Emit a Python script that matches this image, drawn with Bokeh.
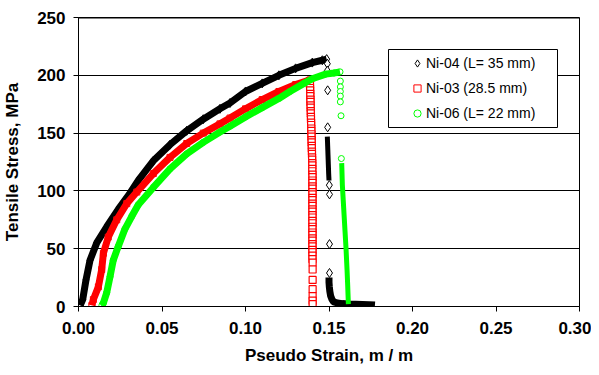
from bokeh.plotting import figure
from bokeh.models import (Range1d, FixedTicker, NumeralTickFormatter, Legend,
                          LegendItem, BoxAnnotation, Span)
from bokeh.embed import file_html
from bokeh.resources import INLINE

# ---------------- data ----------------
x_ticks = [0.00, 0.05, 0.10, 0.15, 0.20, 0.25, 0.30]
y_ticks = [0, 50, 100, 150, 200, 250]

# Ni-04 (L= 35 mm)  - black diamonds
ni04_rise_strain = [0.0010, 0.0025, 0.0045, 0.0069, 0.0109, 0.0169, 0.0238, 0.0308,
                    0.0358, 0.0448, 0.0548, 0.0648, 0.0747, 0.0847, 0.0907, 0.1000,
                    0.1100, 0.1200, 0.1300, 0.1400, 0.1460, 0.1486]
ni04_rise_stress = [1, 6, 23, 40, 55, 69, 84, 98,
                    109, 126, 140, 152, 162, 171, 176, 186,
                    193, 200, 206, 211, 213, 214]
ni04_sparse_strain = [0.1490, 0.1490, 0.1492, 0.1492, 0.1502, 0.1503, 0.1503, 0.1503]
ni04_sparse_stress = [210, 204, 187, 155, 105, 97, 54, 29]
ni04_dense_strain = [0.1490, 0.1491, 0.1492, 0.1493, 0.1494, 0.1495, 0.1496, 0.1497,
                     0.1498, 0.1499, 0.1500]
ni04_dense_stress = [147, 143, 139, 135, 131, 127, 123, 119, 115, 112, 109]
ni04_tail_strain = [0.1500, 0.1500, 0.1502, 0.1505, 0.1510, 0.1518, 0.1528, 0.1550,
                    0.1580, 0.1620, 0.1660, 0.1700, 0.1740, 0.1775]
ni04_tail_stress = [25, 21, 17, 13, 9, 6, 4, 3, 2.5, 2.2, 2, 1.8, 1.6, 1.2]

# Ni-03 (28.5 mm)  - red squares
ni03_rise_strain = [0.0080, 0.0089, 0.0119, 0.0139, 0.0149, 0.0178, 0.0229, 0.0289,
                    0.0349, 0.0448, 0.0548, 0.0648, 0.0747, 0.0847, 0.0907, 0.1000,
                    0.1100, 0.1200, 0.1300, 0.1386]
ni03_rise_stress = [1, 6, 17, 32, 46, 60, 75, 89,
                    99, 115, 129, 141, 150, 158, 163, 171,
                    179, 186, 192, 196]
ni03_drop_strain = [0.1386, 0.1386, 0.1387, 0.1387, 0.1388, 0.1388, 0.1389, 0.1389,
                    0.1390, 0.1390, 0.1391, 0.1391, 0.1392, 0.1392, 0.1393, 0.1393,
                    0.1394, 0.1394, 0.1395, 0.1395, 0.1396, 0.1396, 0.1397, 0.1397,
                    0.1398, 0.1398, 0.1399, 0.1399, 0.1400, 0.1400, 0.1400, 0.1400,
                    0.1401, 0.1401, 0.1401, 0.1401, 0.1401, 0.1401, 0.1401, 0.1401,
                    0.1401, 0.1401, 0.1401, 0.1401, 0.1401, 0.1401, 0.1401, 0.1401,
                    0.1401, 0.1401, 0.1401, 0.1401, 0.1401, 0.1401, 0.1401, 0.1401,
                    0.1401, 0.1401, 0.1401, 0.1401, 0.1401, 0.1401, 0.1402, 0.1402,
                    0.1402, 0.1402, 0.1402, 0.1402, 0.1402]
ni03_drop_stress = [195, 192, 189, 187, 184, 182, 179, 177,
                    174, 172, 169, 167, 164, 162, 159, 157,
                    154, 152, 149, 147, 144, 142, 139, 137,
                    134, 132, 129, 127, 124, 122, 119, 117,
                    114, 112, 109, 107, 104, 102, 99, 97,
                    94, 92, 89, 87, 84, 82, 79, 77,
                    74, 72, 69, 67, 64, 62, 59, 57,
                    54, 52, 49, 47, 44, 41, 38, 32,
                    23, 15, 9, 5, 2]

# Ni-06 (L= 22 mm)  - green circles
ni06_rise_strain = [0.0140, 0.0149, 0.0169, 0.0189, 0.0208, 0.0238, 0.0278, 0.0319,
                    0.0358, 0.0448, 0.0548, 0.0648, 0.0747, 0.0847, 0.0907, 0.1000,
                    0.1100, 0.1200, 0.1266, 0.1350, 0.1400, 0.1480, 0.1530, 0.1566]
ni06_rise_stress = [1, 3, 12, 26, 40, 52, 67, 78,
                    88, 103, 119, 132, 142, 151, 156, 164,
                    172, 180, 186, 193, 197, 201, 202, 203]
ni06_sparse_strain = [0.1568, 0.1568, 0.1568, 0.1568, 0.1568, 0.1572, 0.1574]
ni06_sparse_stress = [195, 190, 186, 182, 177, 165, 128]
ni06_dense_strain = [0.1576, 0.1577, 0.1578, 0.1579, 0.1580, 0.1582, 0.1584, 0.1586,
                     0.1588, 0.1590, 0.1592, 0.1594, 0.1596, 0.1598, 0.1600, 0.1602,
                     0.1604, 0.1606, 0.1608, 0.1610, 0.1612, 0.1614, 0.1616]
ni06_dense_stress = [124, 120, 115, 110, 105, 100, 95, 90,
                     85, 80, 75, 70, 65, 60, 55, 50,
                     44, 38, 32, 25, 18, 10, 2]

# ---------------- figure ----------------
p = figure(width=591, height=367, output_backend="svg", toolbar_location=None,
           x_range=Range1d(0, 0.30), y_range=Range1d(0, 250),
           min_border_left=78, min_border_right=12, min_border_top=17,
           min_border_bottom=60, background_fill_color="white",
           border_fill_color="white")

p.outline_line_color = "black"
p.outline_line_width = 1

p.xgrid.visible = False
p.ygrid.ticker = FixedTicker(ticks=y_ticks)
p.ygrid.grid_line_color = "black"
p.ygrid.grid_line_width = 1

p.xaxis.ticker = FixedTicker(ticks=x_ticks)
p.yaxis.ticker = FixedTicker(ticks=y_ticks)
p.xaxis.formatter = NumeralTickFormatter(format="0.00")
p.xaxis.axis_label = "Pseudo Strain, m / m"
p.yaxis.axis_label = "Tensile Stress, MPa"

for ax in (p.xaxis[0], p.yaxis[0]):
    ax.axis_line_color = "black"
    ax.major_tick_line_color = "black"
    ax.major_tick_out = 5
    ax.major_tick_in = 0
    ax.minor_tick_line_color = None
    ax.major_label_text_font = "Liberation Sans"
    ax.major_label_text_font_style = "bold"
    ax.major_label_text_font_size = "17px"
    ax.major_label_text_color = "black"
    ax.axis_label_text_font = "Liberation Sans"
    ax.axis_label_text_font_style = "bold"
    ax.axis_label_text_font_size = "17px"
    ax.axis_label_text_color = "black"

p.yaxis.major_label_standoff = 8
p.yaxis.axis_label_standoff = 12
p.xaxis.major_label_standoff = 10
p.xaxis.axis_label_standoff = 9

# heavier top border of the plot area
p.add_layout(Span(location=y_ticks[-1], dimension="width", line_color="black",
                  line_width=2))

BAND = 7

# Ni-04 black
p.line(ni04_rise_strain, ni04_rise_stress, line_color="black", line_width=BAND)
p.line(ni04_dense_strain, ni04_dense_stress, line_color="black", line_width=5)
p.line(ni04_tail_strain, ni04_tail_stress, line_color="black", line_width=BAND)
r04 = p.scatter(ni04_rise_strain, ni04_rise_stress, marker="diamond", size=9,
                line_color="black", fill_color=None, line_width=1)
p.scatter(ni04_sparse_strain, ni04_sparse_stress, marker="diamond", size=9,
          line_color="black", fill_color="white", line_width=1)

# Ni-03 red
p.line(ni03_rise_strain, ni03_rise_stress, line_color="#ff0000", line_width=BAND)
r03 = p.scatter(ni03_rise_strain, ni03_rise_stress, marker="square", size=6,
                line_color="#ff0000", fill_color=None, line_width=1)
p.scatter(ni03_drop_strain, ni03_drop_stress, marker="square", size=7,
          line_color="#ff0000", fill_color="white", line_width=1.2)

# Ni-06 green
p.line(ni06_rise_strain, ni06_rise_stress, line_color="#00ff00", line_width=BAND)
p.line(ni06_dense_strain, ni06_dense_stress, line_color="#00ff00", line_width=5)
r06 = p.scatter(ni06_rise_strain, ni06_rise_stress, marker="circle", size=6,
                line_color="#00ff00", fill_color=None, line_width=1)
p.scatter(ni06_sparse_strain, ni06_sparse_stress, marker="circle", size=6,
          line_color="#00ff00", fill_color="white", line_width=1)

# legend frame (screen units relative to the plot frame)
box = BoxAnnotation(left=310, right=479, top=257, bottom=179,
                    left_units="screen", right_units="screen",
                    top_units="screen", bottom_units="screen",
                    fill_color="white", fill_alpha=1.0,
                    line_color="black", line_width=1, line_alpha=1.0)
p.add_layout(box)

legend = Legend(items=[LegendItem(label="Ni-04 (L= 35 mm)", renderers=[r04]),
                       LegendItem(label="Ni-03 (28.5 mm)", renderers=[r03]),
                       LegendItem(label="Ni-06 (L= 22 mm)", renderers=[r06])],
                location=(330, 183), padding=0, margin=0, spacing=5,
                label_height=20, glyph_height=20, glyph_width=18,
                label_standoff=0, border_line_color=None,
                background_fill_alpha=0.0,
                label_text_font="Liberation Sans", label_text_font_size="14px",
                label_text_color="black")
p.add_layout(legend)

open("out.html", "w").write(file_html(p, INLINE))
